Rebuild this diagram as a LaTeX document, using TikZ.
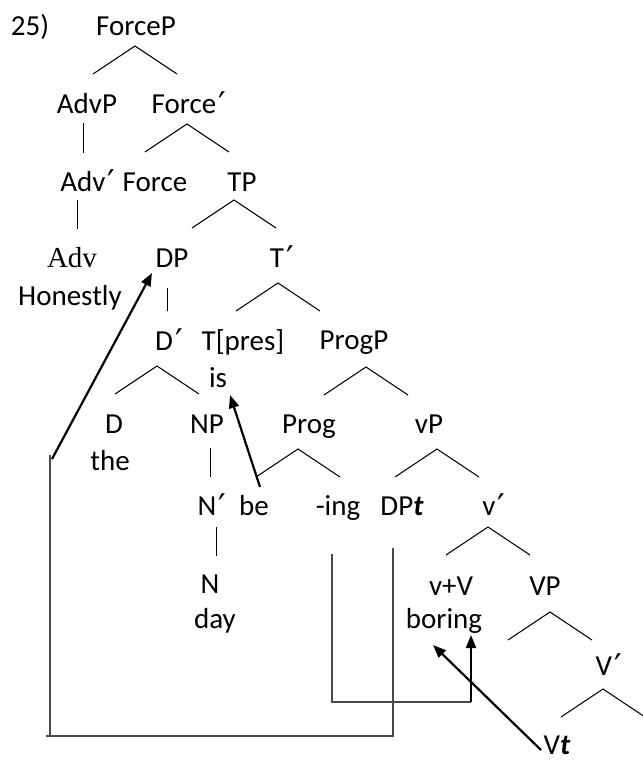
\documentclass[tikz,border=0pt]{standalone}
\usepackage{fontspec}
\setmainfont{Carlito}
\newfontfamily\synserif{Liberation Serif}
\newfontfamily\synprimefont{DejaVu Sans}
\newcommand\synbar{\kern1.2pt\raisebox{-1.6pt}{\synprimefont\fontsize{17}{17}\selectfont ′}}
\usetikzlibrary{arrows.meta,calc}
\definecolor{synInk}{HTML}{000000}
\definecolor{synLine}{HTML}{4A4A4A}
\tikzset{
  syn label/.style={font=\fontsize{14.5}{17}\selectfont, text=synInk, inner sep=0pt, anchor=base},
  syn branch/.style={draw=synInk, line width=0.5pt},
  syn trace/.style={draw=synLine, line width=0.55pt},
  syn move/.style={draw=synInk, line width=1.1pt, -{Triangle[length=6.5pt,width=5pt]}},
}

\begin{document}
\begin{tikzpicture}[x=0.5pt,y=-0.5pt]
  \useasboundingbox (0,0) rectangle (643,762);
  % labels, rows from top to bottom
  \node[syn label] (num) at (30,35) {25)};
  \node[syn label] (forcep) at (136,35) {ForceP};
  \node[syn label] (advp) at (87,113) {AdvP};
  \node[syn label] (forcebar) at (189,113) {Force\synbar};
  \node[syn label] (advbar) at (88,191) {Adv\synbar};
  \node[syn label] (force) at (155,191) {Force};
  \node[syn label] (tp) at (242,191) {TP};
  \node[syn label,font=\fontsize{14.5}{17}\synserif] (adv) at (72,267) {Adv};
  \node[syn label] (dp) at (172,267) {DP};
  \node[syn label] (tbar) at (282,267) {T\synbar};
  \node[syn label] (honestly) at (70,305) {Honestly};
  \node[syn label] (dbar) at (169,350) {D\synbar};
  \node[syn label] (tpres) at (243,350) {T[pres]};
  \node[syn label] (progp) at (354,349) {ProgP};
  \node[syn label] (is) at (218,387) {is};
  \node[syn label] (d) at (114,433) {D};
  \node[syn label] (np) at (207,433) {NP};
  \node[syn label] (prog) at (309,433) {Prog};
  \node[syn label] (vp) at (429,433) {vP};
  \node[syn label] (the) at (110,470) {the};
  \node[syn label] (nbar) at (212,515) {N\synbar};
  \node[syn label] (be) at (254,515) {be};
  \node[syn label] (ing) at (338,515) {-ing};
  \node[syn label] (dpt) at (402,515) {DP\textbf{\textit{t}}};
  \node[syn label] (vbar) at (494,515) {v\synbar};
  \node[syn label] (n) at (210,593) {N};
  \node[syn label] (vplusv) at (451,595) {v+V};
  \node[syn label] (bigvp) at (545,595) {VP};
  \node[syn label] (day) at (215,628) {day};
  \node[syn label] (boring) at (444,628) {boring};
  \node[syn label] (bigvbar) at (609,675) {V\synbar};
  \node[syn label] (vt) at (557,754) {V\textbf{\textit{t}}};

  % binary branches hang under the parent
  \foreach \p/\dx/\dy in {forcep/-1/11,forcebar/-2/11,tp/-8/9,tbar/-4/16,dbar/-12/16,
      progp/12/18,prog/-11/16,vp/8/16,vbar/-6/12,bigvp/5/17,bigvbar/-6/14}
    \draw[syn branch] ($(\p.base)+(\dx,\dy)$) ++(-42,28) -- ++(42,-28) -- ++(42,28);
  % unary branches
  \foreach \p/\dx/\ya/\yb in {advp/-4/10/40,advbar/-11/9/38,dp/-5/21/44,np/3/15/44,nbar/4/12/41}
    \draw[syn branch] ($(\p.base)+(\dx,\ya)$) -- ($(\p.base)+(\dx,\yb)$);

  % traces
  \coordinate (dpfoot) at (50,736);
  \coordinate (ingfoot) at (471,702);
  \draw[syn trace] ($(dpt.base)+(-9,33)$) |- (46,736);
  \draw[syn trace] (dpfoot) -- (50,455);
  \draw[syn trace] ($(ing.base)+(-6,39)$) |- (ingfoot);
  % movement arrows
  \draw[syn move] (52,459) -- ($(dp.base)+(-20,6)$);
  \draw[syn move] ($(be.base)+(6,-28)$) -- ($(is.base)+(12,8)$);
  \draw[syn move] (ingfoot) -- ($(boring.base)+(27,7)$);
  \draw[syn move] ($(vt.base)+(-16,-4)$) -- ($(boring.base)+(-11,17)$);
\end{tikzpicture}
\end{document}
